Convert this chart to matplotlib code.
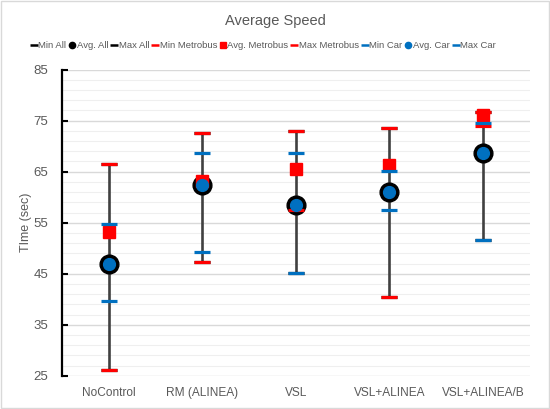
import numpy as np
import matplotlib
matplotlib.use("Agg")
import matplotlib.pyplot as plt
from matplotlib.lines import Line2D

plt.rcParams['font.family'] = ['Liberation Sans', 'DejaVu Sans']

categories = ["NoControl", "RM (ALINEA)", "VSL", "VSL+ALINEA", "VSL+ALINEA/B"]

min_all = [26.1, 47.3, 45.2, 40.5, 51.6]
avg_all = [46.9, 62.3, 58.4, 61.0, 68.6]
max_all = [66.5, 72.6, 72.9, 73.6, 76.8]

min_metro = [26.1, 47.3, 57.4, 40.5, 74.0]
avg_metro = [53.2, 63.2, 65.6, 66.3, 76.1]
max_metro = [66.5, 72.6, 72.9, 73.6, 76.8]

min_car = [39.6, 49.3, 45.2, 57.5, 51.6]
avg_car = [46.9, 62.3, 58.4, 61.0, 68.6]
max_car = [54.7, 68.6, 68.6, 65.1, 74.5]

RED = "#ff0000"
BLUE = "#0070c0"
GREY = "#595959"

fig = plt.figure(figsize=(5.5, 4.09), dpi=100)
fig.patches.append(plt.Rectangle((0.002, 0.002), 0.996, 0.996, transform=fig.transFigure,
                                 fill=False, edgecolor="#d9d9d9", linewidth=1))
ax = fig.add_axes([0.1127, 0.0814, 0.8503, 0.7482])

x = np.arange(len(categories))

# high-low lines
ax.vlines(x, min_all, max_all, color="#404040", linewidth=1.9, zorder=2)

dash = dict(marker="_", ms=12, mew=2.3)
series = [
    (min_all, "Min All", dict(dash, color="black")),
    (avg_all, "Avg. All", dict(marker="o", color="black", ms=13.5)),
    (max_all, "Max All", dict(dash, color="black")),
    (min_metro, "Min Metrobus", dict(dash, color=RED)),
    (avg_metro, "Avg. Metrobus", dict(marker="s", color=RED, ms=8.5)),
    (max_metro, "Max Metrobus", dict(dash, color=RED)),
    (min_car, "Min Car", dict(dash, color=BLUE)),
    (avg_car, "Avg. Car", dict(marker="o", color=BLUE, ms=8.5)),
    (max_car, "Max Car", dict(dash, color=BLUE)),
]

handles = []
for i, (vals, name, style) in enumerate(series):
    ax.plot(x, vals, linestyle="none", zorder=3 + i, **style)
    # small legend handle
    if style["marker"] == "_":
        h = Line2D([], [], linestyle="none", marker="_", color=style["color"], ms=5.5, mew=1.8, label=name)
    else:
        h = Line2D([], [], linestyle="none", marker=style["marker"], color=style["color"], ms=4.5, label=name)
    handles.append(h)

ax.set_xlim(-0.5, len(categories) - 0.5)
ax.set_ylim(25, 85)
ax.set_yticks(np.arange(25, 86, 10))
ax.set_yticks(np.arange(25, 86, 2), minor=True)
ax.grid(which="major", axis="y", color="#d9d9d9", linewidth=1, zorder=0)
ax.grid(which="minor", axis="y", color="#efefef", linewidth=0.8, zorder=0)
ax.set_axisbelow(True)

ax.set_xticks(x)
ax.set_xticklabels(categories)
for s in ["top", "right", "bottom"]:
    ax.spines[s].set_visible(False)
ax.spines["left"].set_linewidth(1.6)
ax.spines["left"].set_color("black")
ax.tick_params(axis="y", which="major", direction="in", length=4, width=1.5,
               colors="black", labelcolor=GREY, labelsize=9.5, pad=10)
ax.tick_params(axis="y", which="minor", length=0)
ax.tick_params(axis="x", length=0, labelcolor=GREY, labelsize=8.6, pad=8)
ax.set_ylabel("TIme (sec)", color=GREY, fontsize=9, labelpad=1)

fig.text(0.5, 0.949, "Average Speed", ha="center", va="center", color=GREY, fontsize=10.5)

leg = fig.legend(handles=handles, loc="center", bbox_to_anchor=(0.479, 0.889), ncol=9,
                 frameon=False, fontsize=6.8, handlelength=0.55,
                 handletextpad=0.2, columnspacing=0.35, numpoints=1)
for t in leg.get_texts():
    t.set_color(GREY)

fig.savefig("out.png", dpi=100)
